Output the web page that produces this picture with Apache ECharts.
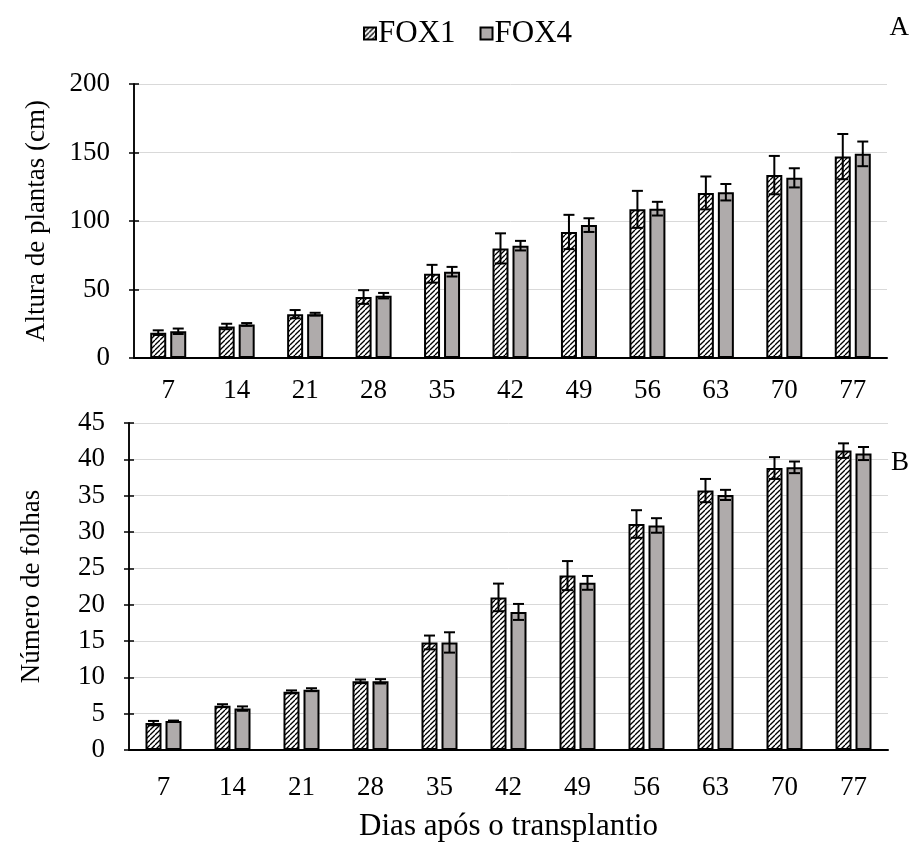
<!DOCTYPE html>
<html>
<head>
<meta charset="utf-8">
<script src="https://cdn.jsdelivr.net/npm/echarts@6/dist/echarts.min.js"></script>
<style>html,body{margin:0;padding:0;background:#fff}#c{width:913px;height:844px}</style>
</head>
<body>
<div id="c"></div>
<script>
const days = ['7','14','21','28','35','42','49','56','63','70','77'];
const heightTicks = [0, 50, 100, 150, 200];
const leavesTicks = [0, 5, 10, 15, 20, 25, 30, 35, 40, 45];
const heightFox1 = [18.5, 23, 32, 44.5, 61.5, 80, 92, 108.5, 120.5, 133.5, 147];
const heightFox1Err = [1.7, 2, 3, 5, 6.5, 11, 12.5, 13.5, 12, 14, 16.5];
const heightFox4 = [19.5, 24.5, 32, 45.5, 63, 82, 97, 109, 121, 131.5, 149];
const heightFox4Err = [2, 1, 1, 2, 3.5, 3.5, 5, 5, 6, 7, 9];
const leavesFox1 = [3.7, 6.1, 8.0, 9.45, 14.8, 21.0, 24.0, 31.1, 35.7, 38.8, 41.2];
const leavesFox1Err = [0.3, 0.2, 0.2, 0.25, 0.95, 1.9, 2.0, 1.9, 1.6, 1.5, 1.0];
const leavesFox4 = [4.0, 5.7, 8.3, 9.45, 14.8, 19.0, 23.0, 30.9, 35.1, 38.9, 40.8];
const leavesFox4Err = [0.05, 0.3, 0.2, 0.3, 1.4, 1.1, 0.95, 1.0, 0.7, 0.8, 0.9];

const FONT = 'Liberation Serif';
const GRAY = '#AFABAB';

// hatch pattern
const pc = document.createElement('canvas');
pc.width = 5; pc.height = 5;
const g = pc.getContext('2d');
g.fillStyle = '#fff'; g.fillRect(0,0,5,5);
g.strokeStyle = '#000'; g.lineWidth = 1.3;
[-5, 0, 5].forEach((dx)=>{g.beginPath();g.moveTo(dx,5);g.lineTo(dx+5,0);g.stroke();});
const hatch = {image: pc, repeat: 'repeat'};

const BW = 16, OFF = 10;

function errSeries(name, xi, yi, vals, errs, off) {
  return {
    name: name, type: 'custom', xAxisIndex: xi, yAxisIndex: yi, z: 10,
    data: vals.map((v,i)=>[i, v, errs[i]]),
    renderItem: function(params, api) {
      const i = api.value(0), v = api.value(1), e = api.value(2);
      const top = api.coord([i, v + e]);
      const bot = api.coord([i, v - e]);
      const x = top[0] + off;
      const st = {stroke: '#000', lineWidth: 2};
      return {type: 'group', children: [
        {type:'line', shape:{x1:x, y1:top[1], x2:x, y2:bot[1]}, style: st},
        {type:'line', shape:{x1:x-5.5, y1:top[1], x2:x+5.5, y2:top[1]}, style: st},
        {type:'line', shape:{x1:x-5.5, y1:bot[1], x2:x+5.5, y2:bot[1]}, style: st}
      ]};
    },
    tooltip: {show:false}
  };
}

function yAx(grid, ticks, name, gap, inside) {
  const o = {
    type: 'value', gridIndex: grid, position: 'left', offset: 0,
    min: ticks[0], max: ticks[ticks.length-1],
    interval: ticks[1]-ticks[0],
    axisLine: {show: true, lineStyle: {color: '#000', width: 1.5}},
    axisTick: {show: true, inside: !!inside, length: 5, lineStyle: {color: '#000', width: 1.5}},
    splitLine: {show: !inside, lineStyle: {color: '#D9D9D9', width: 1}},
    axisLabel: {show: !inside, margin: 24, color: '#000', fontFamily: FONT, fontSize: 27}
  };
  if (!inside) {
    o.name = name; o.nameLocation = 'middle'; o.nameGap = gap;
    o.nameTextStyle = {color: '#000', fontFamily: FONT, fontSize: 27};
  }
  return o;
}

function xAx(grid, margin, name) {
  const o = {
    type: 'category', gridIndex: grid, data: days,
    axisLine: {show: true, lineStyle: {color: '#000', width: 2}},
    axisTick: {show: false},
    axisLabel: {margin: margin, color: '#000', fontFamily: FONT, fontSize: 27},
    splitLine: {show: false}
  };
  if (name) {
    o.name = name; o.nameLocation = 'middle'; o.nameGap = 61;
    o.nameTextStyle = {color: '#000', fontFamily: FONT, fontSize: 31};
  }
  return o;
}

function barS(name, xi, yi, vals, color) {
  return {
    name: name, type: 'bar', xAxisIndex: xi, yAxisIndex: yi,
    barWidth: BW, barGap: '25%', data: vals,
    itemStyle: {color: color, borderColor: '#000', borderWidth: 2},
    emphasis: {disabled: true}
  };
}

const chart = echarts.init(document.getElementById('c'), null, {renderer: 'canvas'});
chart.setOption({
  animation: false,
  backgroundColor: '#fff',
  legend: {
    data: ['FOX1', 'FOX4'], top: 13, left: 358, icon: 'rect',
    itemWidth: 12, itemHeight: 12, itemGap: 24,
    textStyle: {color: '#000', fontFamily: FONT, fontSize: 31, padding: [0, 0, 0, -3]},
    selectedMode: false
  },
  graphic: [
    {type: 'text', right: 4, top: 14, style: {text: 'A', fill: '#000', font: '27px "Liberation Serif"'}},
    {type: 'text', right: 4, top: 449, style: {text: 'B', fill: '#000', font: '27px "Liberation Serif"'}}
  ],
  grid: [
    {left: 134, right: 26, top: 84, height: 274},
    {left: 129, right: 25, top: 423, height: 327}
  ],
  xAxis: [xAx(0, 19), xAx(1, 24, 'Dias após o transplantio')],
  yAxis: [
    yAx(0, heightTicks, 'Altura de plantas (cm)', 84),
    yAx(0, heightTicks, '', 0, true),
    yAx(1, leavesTicks, 'Número de folhas', 84),
    yAx(1, leavesTicks, '', 0, true)
  ],
  series: [
    barS('FOX1', 0, 0, heightFox1, hatch),
    barS('FOX4', 0, 0, heightFox4, GRAY),
    errSeries('e1', 0, 0, heightFox1, heightFox1Err, -OFF),
    errSeries('e2', 0, 0, heightFox4, heightFox4Err, OFF),
    barS('FOX1', 1, 2, leavesFox1, hatch),
    barS('FOX4', 1, 2, leavesFox4, GRAY),
    errSeries('e3', 1, 2, leavesFox1, leavesFox1Err, -OFF),
    errSeries('e4', 1, 2, leavesFox4, leavesFox4Err, OFF)
  ]
});
</script>
</body>
</html>
